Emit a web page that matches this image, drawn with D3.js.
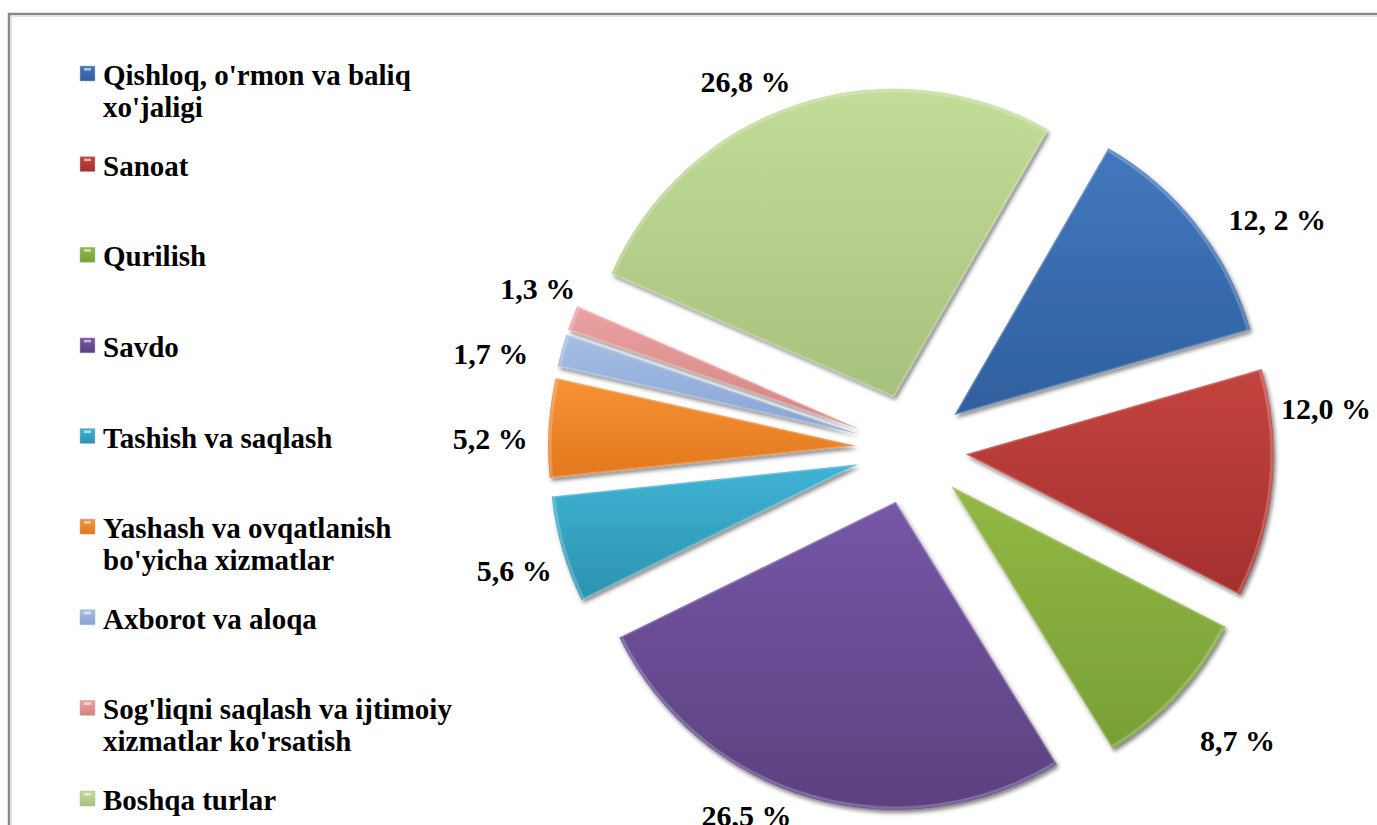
<!DOCTYPE html>
<html>
<head>
<meta charset="utf-8">
<script src="https://cdn.jsdelivr.net/npm/d3@7"></script>
<style>
    html, body { margin: 0; padding: 0; background: #fff; overflow: hidden; }
    svg { display: block; }
    svg text { font-weight: 700; fill: #000; }
</style>
</head>
<body>
<svg id="chart" width="1377" height="825"></svg>
<script>
'use strict';

// sectors of the economy, in drawing order (clockwise from the first slice)
var categories = [
    "Qishloq, o'rmon va baliq xo'jaligi",
    'Sanoat',
    'Qurilish',
    'Savdo',
    'Tashish va saqlash',
    "Yashash va ovqatlanish bo'yicha xizmatlar",
    'Axborot va aloqa',
    "Sog'liqni saqlash va ijtimoiy xizmatlar ko'rsatish",
    'Boshqa turlar'
];
var shares = [12.2, 12.0, 8.7, 26.5, 5.6, 5.2, 1.7, 1.3, 26.8];
var valueLabels = ['12, 2 %', '12,0 %', '8,7 %', '26,5 %', '5,6 %', '5,2 %', '1,7 %', '1,3 %', '26,8 %'];

// office 2007 palette, top / bottom of each slice gradient
var colorsTop = ['#4178bd', '#c4443f', '#92b845', '#7656a6', '#3fb3d4', '#f69236', '#a6bfe6', '#eaa3a1', '#c3dc98'];
var colorsBottom = ['#2f5f9e', '#a42f2e', '#789f34', '#5b417f', '#2b93b0', '#e2781e', '#86a3d2', '#d58280', '#a7c27c'];

// label placement nudges (best fit in the original), degrees and px from centre
var labelTurn = [6, -11, -1, 8, -1, -2, -3, 2, -6];
var labelDist = [432, 417, 438, 402, 415, 421, 431, 406, 403];

var FONT = "'Liberation Serif', 'Times New Roman', Tinos, 'Nimbus Roman', 'Nimbus Roman No9 L', FreeSerif, 'DejaVu Serif', Times, serif";

var svg, defs, width = 1377, height = 825;
var cx = 911, cy = 449, radius = 308, explode = 55;

init();

function init () {
    svg = d3.select('#chart');
    defs = svg.append('defs');
    drawFrame();
    makeGradients();
    makeFilters();
    drawPie();
    drawLegend();
}

function drawFrame () {
    svg.append('rect')
        .attr('x', 9)
        .attr('y', 14)
        .attr('width', width + 20)
        .attr('height', height + 20)
        .attr('fill', 'none')
        .attr('stroke', '#878787')
        .attr('stroke-width', 2.5);
    svg.append('path')
        .attr('d', 'M11.5,' + (height + 20) + 'V16.5H' + (width + 20))
        .attr('fill', 'none')
        .attr('stroke', '#e2e2e2')
        .attr('stroke-width', 1);
}

function makeGradients () {
    var grads = defs.selectAll('linearGradient')
        .data(categories)
        .enter()
        .append('linearGradient')
        .attr('id', function (d, i) { return 'g' + i; })
        .attr('x1', 0).attr('y1', 0)
        .attr('x2', 0).attr('y2', 1);
    grads.append('stop')
        .attr('offset', '0%')
        .attr('stop-color', function (d, i) { return colorsTop[i]; });
    grads.append('stop')
        .attr('offset', '100%')
        .attr('stop-color', function (d, i) { return colorsBottom[i]; });
}

function makeFilters () {
    // grey halo under each slice, like the soft shadow in the original
    var f = defs.append('filter')
        .attr('id', 'halo')
        .attr('x', '-10%').attr('y', '-10%')
        .attr('width', '120%').attr('height', '120%');
    f.append('feGaussianBlur')
        .attr('in', 'SourceAlpha')
        .attr('stdDeviation', 2.2)
        .attr('result', 'sh');
    f.append('feOffset')
        .attr('in', 'sh')
        .attr('dx', 1.5).attr('dy', 2.5)
        .attr('result', 'shOff');
    f.append('feComponentTransfer')
        .attr('in', 'shOff')
        .attr('result', 'shFade')
        .append('feFuncA')
        .attr('type', 'linear')
        .attr('slope', 0.5);
    var merge = f.append('feMerge');
    merge.append('feMergeNode').attr('in', 'shFade');
    merge.append('feMergeNode').attr('in', 'SourceGraphic');
}

function drawPie () {
    var start = 30 * Math.PI / 180;
    var pie = d3.pie()
        .sort(null)
        .startAngle(start)
        .endAngle(start + 2 * Math.PI)
        .value(function (d) { return d; });
    var arc = d3.arc()
        .innerRadius(0)
        .outerRadius(radius);
    var rim = d3.arc()
        .innerRadius(0)
        .outerRadius(radius - 2);
    var arcs = pie(shares);

    var gPie = svg.append('g')
        .attr('transform', 'translate(' + cx + ',' + cy + ')');

    var slices = gPie.selectAll('g.slice')
        .data(arcs)
        .enter()
        .append('g')
        .attr('class', 'slice')
        .attr('transform', function (d) {
            var mid = (d.startAngle + d.endAngle) / 2;
            return 'translate(' + (explode * Math.sin(mid)) + ',' + (-explode * Math.cos(mid)) + ')';
        });

    slices.append('path')
        .attr('d', arc)
        .attr('fill', function (d, i) { return 'url(#g' + i + ')'; })
        .attr('filter', 'url(#halo)');

    // soft bevel highlight along the edges
    slices.append('path')
        .attr('d', rim)
        .attr('fill', 'none')
        .attr('stroke', '#ffffff')
        .attr('stroke-opacity', 0.22)
        .attr('stroke-width', 3)
        .attr('stroke-linejoin', 'round');

    gPie.selectAll('text.pct')
        .data(arcs)
        .enter()
        .append('text')
        .attr('class', 'pct')
        .attr('font-family', FONT)
        .attr('x', function (d, i) {
            var a = (d.startAngle + d.endAngle) / 2 + labelTurn[i] * Math.PI / 180;
            return labelDist[i] * Math.sin(a);
        })
        .attr('y', function (d, i) {
            var a = (d.startAngle + d.endAngle) / 2 + labelTurn[i] * Math.PI / 180;
            return -labelDist[i] * Math.cos(a);
        })
        .attr('dy', '0.34em')
        .attr('text-anchor', 'middle')
        .attr('font-size', 30)
        .text(function (d, i) { return valueLabels[i]; });
}

function drawLegend () {
    var rowY = d3.scalePoint()
        .domain(categories)
        .range([85, 810]);
    var maxW = 365;

    var rows = svg.append('g')
        .attr('class', 'legend')
        .selectAll('g')
        .data(categories)
        .enter()
        .append('g')
        .attr('transform', function (d) { return 'translate(0,' + rowY(d) + ')'; });

    rows.append('rect')
        .attr('x', 80)
        .attr('y', -19)
        .attr('width', 15)
        .attr('height', 15)
        .attr('fill', function (d, i) { return 'url(#g' + i + ')'; })
        .attr('stroke', '#b8b8b8')
        .attr('stroke-width', 0.8)
        .attr('stroke-dasharray', '1.5,1');

    rows.append('rect')
        .attr('x', 84)
        .attr('y', -17)
        .attr('width', 7)
        .attr('height', 2.5)
        .attr('fill', '#ffffff')
        .attr('opacity', 0.6);

    rows.append('text')
        .attr('x', 103)
        .attr('y', 0)
        .attr('font-family', FONT)
        .attr('font-size', 29)
        .each(function (d) {
            // wrap long names on to a second line like the original legend
            var t = d3.select(this);
            var words = d.split(' ');
            var line = [];
            var tspan = t.append('tspan').attr('x', 103).attr('dy', 0);
            var i;
            for (i = 0; i < words.length; i++) {
                line.push(words[i]);
                tspan.text(line.join(' '));
                if (tspan.node().getComputedTextLength() > maxW && line.length > 1) {
                    line.pop();
                    tspan.text(line.join(' '));
                    line = [words[i]];
                    tspan = t.append('tspan').attr('x', 103).attr('dy', 32).text(words[i]);
                }
            }
        });
}
</script>
</body>
</html>
